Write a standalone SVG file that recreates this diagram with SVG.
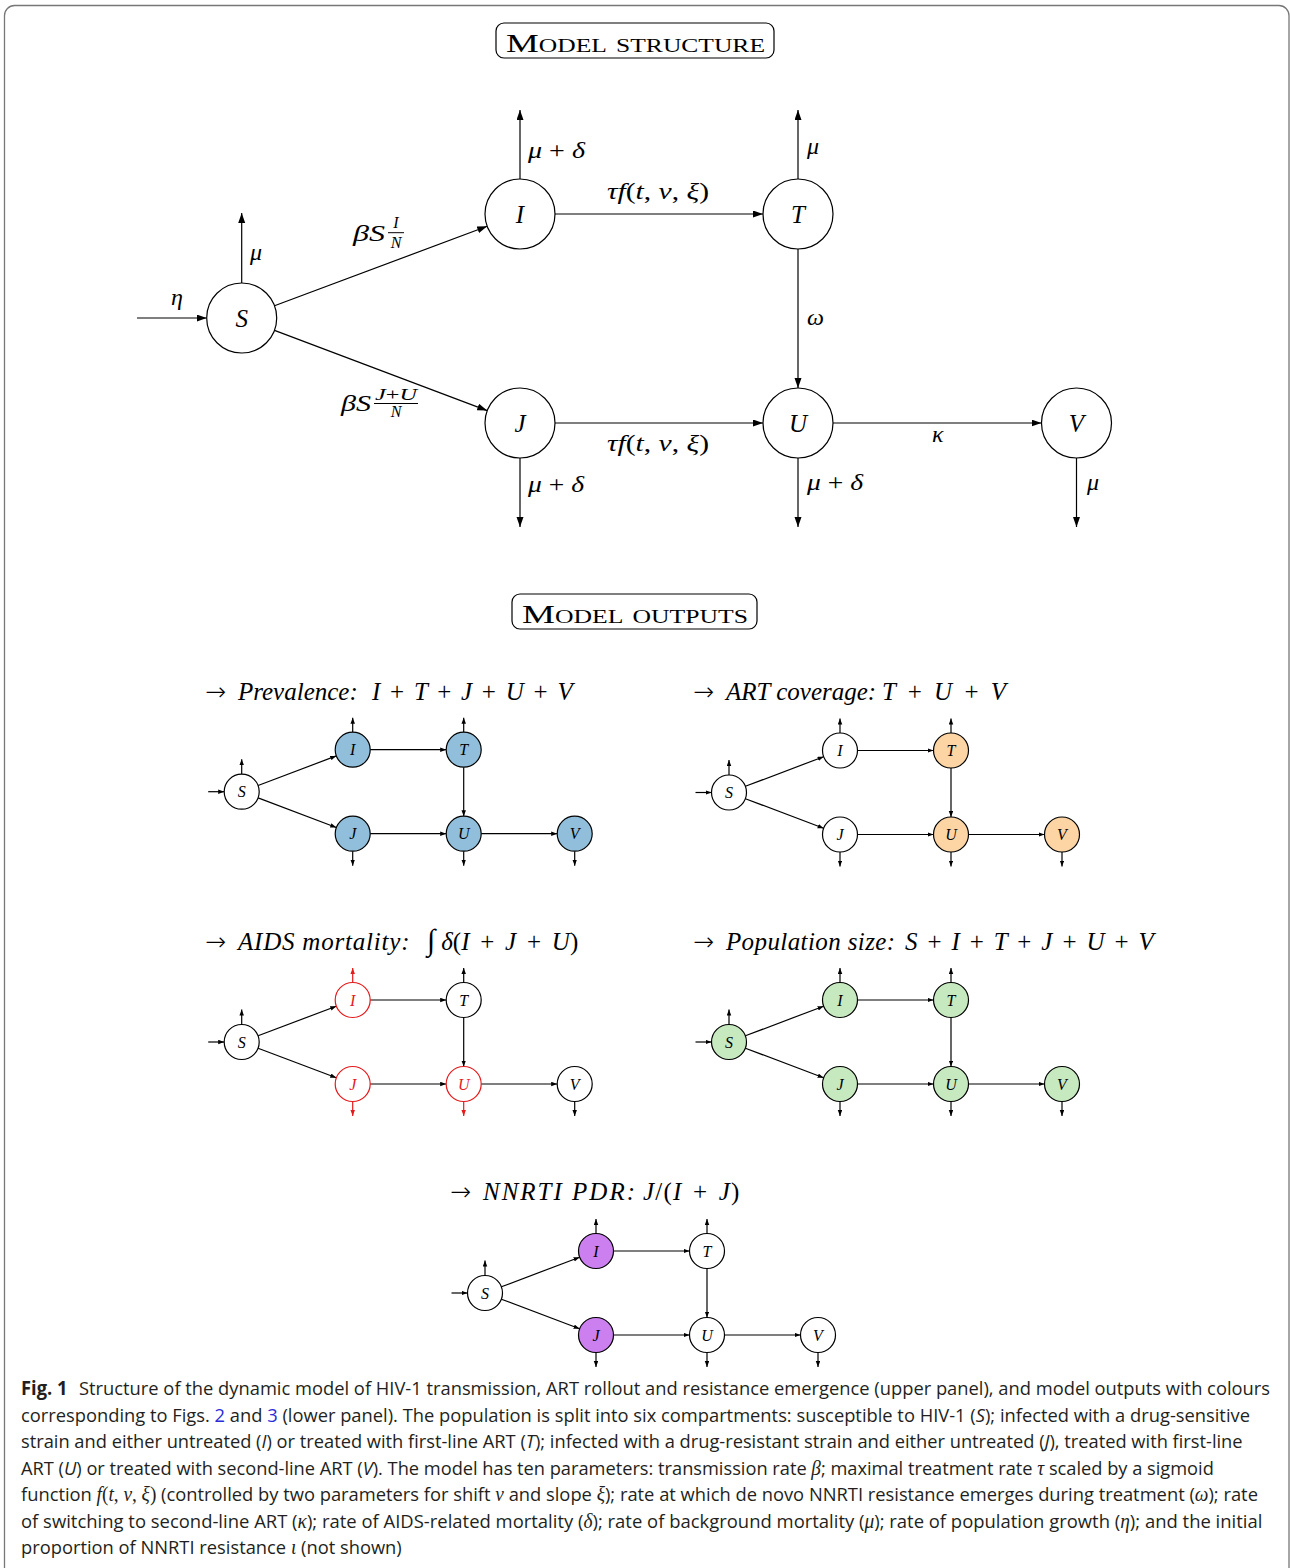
<svg xmlns="http://www.w3.org/2000/svg" width="1290" height="1568" viewBox="0 0 1290 1568">
  <defs>
    <marker id="arr" markerUnits="userSpaceOnUse" markerWidth="11" markerHeight="8" refX="10" refY="3.5" orient="auto">
      <path d="M0,0 L10,3.5 L0,7 z" fill="#000"/>
    </marker>
    <marker id="arrs" markerUnits="userSpaceOnUse" markerWidth="7" markerHeight="5" refX="6" refY="2.25" orient="auto">
      <path d="M0,0 L6,2.25 L0,4.5 z" fill="#000"/>
    </marker>
    <marker id="arrs-red" markerUnits="userSpaceOnUse" markerWidth="7" markerHeight="5" refX="6" refY="2.25" orient="auto">
      <path d="M0,0 L6,2.25 L0,4.5 z" fill="#e41a1c"/>
    </marker>
  </defs>
  <style>
    .frame { fill: #fff; stroke: #777; stroke-width: 1.3; }
    .tbox { fill: none; stroke: #000; stroke-width: 1.2; }
    .ttl { font-family: "Liberation Serif", "DejaVu Serif", serif; font-size: 26px; font-variant: small-caps; fill: #000; }
    .node { fill: #fff; stroke: #000; stroke-width: 1.2; }
    .lbl { font-family: "Liberation Serif", "DejaVu Serif", serif; font-style: italic; font-size: 25px; fill: #000; text-anchor: middle; }
    .m { font-family: "Liberation Serif", "DejaVu Serif", serif; font-style: italic; font-size: 24px; fill: #000; }
    .mf { font-family: "Liberation Serif", "DejaVu Serif", serif; font-style: italic; font-size: 16px; fill: #000; text-anchor: middle; }
    .up { font-style: normal; }
    .edge { fill: none; stroke: #000; stroke-width: 1.2; marker-end: url(#arr); }
    .sedge { fill: none; stroke: #000; stroke-width: 1.2; marker-end: url(#arrs); }
    .sedge-red { fill: none; stroke: #e41a1c; stroke-width: 1.2; marker-end: url(#arrs-red); }
    .snode { stroke: #000; stroke-width: 1.2; fill: #fff; }
    .slbl { font-family: "Liberation Serif", "DejaVu Serif", serif; font-style: italic; font-size: 16px; fill: #000; text-anchor: middle; }
    .blue { fill: #91bfdb; }
    .orange { fill: #fdd5a5; }
    .green { fill: #c7e9c0; }
    .purple { fill: #cc80f0; }
    .red { stroke: #e41a1c; }
    .redtxt { fill: #e41a1c; }
    .otl { font-family: "Liberation Serif", "DejaVu Serif", serif; font-style: italic; font-size: 25px; fill: #000; }
    .arrow { font-family: "DejaVu Sans", sans-serif; font-style: normal; font-weight: 200; }
    .int { font-style: normal; font-size: 30px; }
    .cap { font-family: "Open Sans", "Noto Sans", sans-serif; font-size: 19px; fill: #231f20; }
    .cb { font-weight: bold; }
    .ci { font-style: italic; }
    .cm { font-family: "Liberation Serif", "DejaVu Serif", serif; font-style: italic; font-size: 20px; }
    .cu { font-family: "Liberation Serif", "DejaVu Serif", serif; font-size: 20px; }
    .link { fill: #2b2bd9; }
  </style>

  <!-- outer frame -->
  <rect class="frame" x="4.5" y="5.5" width="1284.5" height="1572" rx="10"/>

  <!-- ===== upper panel ===== -->
  <g id="title-structure">
    <rect class="tbox" x="496" y="23" width="278" height="35" rx="8"/>
    <text class="ttl" x="506" y="52" textLength="259" lengthAdjust="spacingAndGlyphs">Model structure</text>
  </g>

  <g id="connectors">
    <line class="edge" x1="137" y1="318" x2="206.7" y2="318"/>
    <line class="edge" x1="241.7" y1="283" x2="241.7" y2="213"/>
    <line class="edge" x1="274.5" y1="305.7" x2="487.2" y2="226.3"/>
    <line class="edge" x1="274.5" y1="330.4" x2="487.2" y2="410.6"/>
    <line class="edge" x1="520" y1="179" x2="520" y2="110"/>
    <line class="edge" x1="798" y1="179" x2="798" y2="110"/>
    <line class="edge" x1="555" y1="214" x2="763" y2="214"/>
    <line class="edge" x1="798" y1="249" x2="798" y2="388"/>
    <line class="edge" x1="555" y1="423" x2="763" y2="423"/>
    <line class="edge" x1="833" y1="423" x2="1041.5" y2="423"/>
    <line class="edge" x1="520" y1="458" x2="520" y2="527"/>
    <line class="edge" x1="798" y1="458" x2="798" y2="527"/>
    <line class="edge" x1="1076.5" y1="458" x2="1076.5" y2="527"/>
  </g>

  <g id="edge-labels">
    <text class="m" x="171" y="305">η</text>
    <text class="m" x="250" y="260">μ</text>
    <text class="m" x="353" y="241" textLength="32" lengthAdjust="spacingAndGlyphs">βS</text>
    <text class="mf" x="396" y="228">I</text>
    <line x1="388" y1="232.7" x2="404" y2="232.7" stroke="#000" stroke-width="1"/>
    <text class="mf" x="396" y="248">N</text>
    <text class="m" x="341" y="411" textLength="30" lengthAdjust="spacingAndGlyphs">βS</text>
    <text class="mf" x="396" y="400" textLength="42" lengthAdjust="spacingAndGlyphs">J<tspan class="up">+</tspan>U</text>
    <line x1="374" y1="403.5" x2="418" y2="403.5" stroke="#000" stroke-width="1"/>
    <text class="mf" x="396" y="417">N</text>
    <text class="m" x="528" y="158" textLength="57" lengthAdjust="spacingAndGlyphs">μ <tspan class="up">+</tspan> δ</text>
    <text class="m" x="607" y="199" textLength="102" lengthAdjust="spacingAndGlyphs">τf<tspan class="up">(</tspan>t<tspan class="up">, </tspan>ν<tspan class="up">, </tspan>ξ<tspan class="up">)</tspan></text>
    <text class="m" x="807" y="154">μ</text>
    <text class="m" x="807" y="325">ω</text>
    <text class="m" x="607" y="451" textLength="102" lengthAdjust="spacingAndGlyphs">τf<tspan class="up">(</tspan>t<tspan class="up">, </tspan>ν<tspan class="up">, </tspan>ξ<tspan class="up">)</tspan></text>
    <text class="m" x="528" y="492" textLength="56" lengthAdjust="spacingAndGlyphs">μ <tspan class="up">+</tspan> δ</text>
    <text class="m" x="807" y="490" textLength="56" lengthAdjust="spacingAndGlyphs">μ <tspan class="up">+</tspan> δ</text>
    <text class="m" x="932" y="442">κ</text>
    <text class="m" x="1087" y="490">μ</text>
  </g>

  <g id="node-S"><circle class="node" cx="241.7" cy="318" r="35"/><text class="lbl" x="241.7" y="327">S</text></g>
  <g id="node-I"><circle class="node" cx="520" cy="214" r="35"/><text class="lbl" x="520" y="223">I</text></g>
  <g id="node-T"><circle class="node" cx="798" cy="214" r="35"/><text class="lbl" x="798" y="223">T</text></g>
  <g id="node-J"><circle class="node" cx="520" cy="423" r="35"/><text class="lbl" x="520" y="432">J</text></g>
  <g id="node-U"><circle class="node" cx="798" cy="423" r="35"/><text class="lbl" x="798" y="432">U</text></g>
  <g id="node-V"><circle class="node" cx="1076.5" cy="423" r="35"/><text class="lbl" x="1076.5" y="432">V</text></g>

  <!-- ===== lower panel ===== -->
  <g id="title-outputs">
    <rect class="tbox" x="512" y="594" width="245" height="35" rx="8"/>
    <text class="ttl" x="522" y="623" textLength="226" lengthAdjust="spacingAndGlyphs">Model outputs</text>
  </g>

  <!-- output: prevalence -->
  <g id="out-prevalence">
    <text class="otl" x="205" y="700"><tspan class="arrow">→</tspan><tspan dx="12">Prevalence:</tspan><tspan x="372" word-spacing="3.5">I <tspan class="up">+</tspan> T <tspan class="up">+</tspan> J <tspan class="up">+</tspan> U <tspan class="up">+</tspan> V</tspan></text>
    <g transform="translate(241.7,791.7)">
      <g class="connectors">
        <line class="sedge" x1="-33.5" y1="0" x2="-17.5" y2="0"/>
        <line class="sedge" x1="0" y1="-17.5" x2="0" y2="-32.5"/>
        <line class="sedge" x1="16.4" y1="-6.2" x2="94.6" y2="-35.8"/>
        <line class="sedge" x1="16.4" y1="6.2" x2="94.6" y2="35.8"/>
        <line class="sedge" x1="128.5" y1="-42" x2="204.5" y2="-42"/>
        <line class="sedge" x1="222" y1="-24.5" x2="222" y2="24.5"/>
        <line class="sedge" x1="128.5" y1="42" x2="204.5" y2="42"/>
        <line class="sedge" x1="239.5" y1="42" x2="315.5" y2="42"/>
        <line class="sedge" x1="111" y1="-59.5" x2="111" y2="-74"/>
        <line class="sedge" x1="222" y1="-59.5" x2="222" y2="-74"/>
        <line class="sedge" x1="111" y1="59.5" x2="111" y2="74"/>
        <line class="sedge" x1="222" y1="59.5" x2="222" y2="74"/>
        <line class="sedge" x1="333" y1="59.5" x2="333" y2="74"/>
      </g>
      <g id="p-S"><circle class="snode" cx="0" cy="0" r="17.5"/><text class="slbl" x="0" y="5.5">S</text></g>
      <g id="p-I"><circle class="snode blue" cx="111" cy="-42" r="17.5"/><text class="slbl" x="111" y="-36.5">I</text></g>
      <g id="p-T"><circle class="snode blue" cx="222" cy="-42" r="17.5"/><text class="slbl" x="222" y="-36.5">T</text></g>
      <g id="p-J"><circle class="snode blue" cx="111" cy="42" r="17.5"/><text class="slbl" x="111" y="47.5">J</text></g>
      <g id="p-U"><circle class="snode blue" cx="222" cy="42" r="17.5"/><text class="slbl" x="222" y="47.5">U</text></g>
      <g id="p-V"><circle class="snode blue" cx="333" cy="42" r="17.5"/><text class="slbl" x="333" y="47.5">V</text></g>
    </g>
  </g>

  <!-- output: ART coverage -->
  <g id="out-art">
    <text class="otl" x="693" y="700"><tspan class="arrow">→</tspan><tspan dx="12">ART coverage:</tspan><tspan x="882" word-spacing="6">T <tspan class="up">+</tspan> U <tspan class="up">+</tspan> V</tspan></text>
    <g transform="translate(729,792.5)">
      <g class="connectors">
        <line class="sedge" x1="-33.5" y1="0" x2="-17.5" y2="0"/>
        <line class="sedge" x1="0" y1="-17.5" x2="0" y2="-32.5"/>
        <line class="sedge" x1="16.4" y1="-6.2" x2="94.6" y2="-35.8"/>
        <line class="sedge" x1="16.4" y1="6.2" x2="94.6" y2="35.8"/>
        <line class="sedge" x1="128.5" y1="-42" x2="204.5" y2="-42"/>
        <line class="sedge" x1="222" y1="-24.5" x2="222" y2="24.5"/>
        <line class="sedge" x1="128.5" y1="42" x2="204.5" y2="42"/>
        <line class="sedge" x1="239.5" y1="42" x2="315.5" y2="42"/>
        <line class="sedge" x1="111" y1="-59.5" x2="111" y2="-74"/>
        <line class="sedge" x1="222" y1="-59.5" x2="222" y2="-74"/>
        <line class="sedge" x1="111" y1="59.5" x2="111" y2="74"/>
        <line class="sedge" x1="222" y1="59.5" x2="222" y2="74"/>
        <line class="sedge" x1="333" y1="59.5" x2="333" y2="74"/>
      </g>
      <g id="a-S"><circle class="snode" cx="0" cy="0" r="17.5"/><text class="slbl" x="0" y="5.5">S</text></g>
      <g id="a-I"><circle class="snode" cx="111" cy="-42" r="17.5"/><text class="slbl" x="111" y="-36.5">I</text></g>
      <g id="a-T"><circle class="snode orange" cx="222" cy="-42" r="17.5"/><text class="slbl" x="222" y="-36.5">T</text></g>
      <g id="a-J"><circle class="snode" cx="111" cy="42" r="17.5"/><text class="slbl" x="111" y="47.5">J</text></g>
      <g id="a-U"><circle class="snode orange" cx="222" cy="42" r="17.5"/><text class="slbl" x="222" y="47.5">U</text></g>
      <g id="a-V"><circle class="snode orange" cx="333" cy="42" r="17.5"/><text class="slbl" x="333" y="47.5">V</text></g>
    </g>
  </g>

  <!-- output: AIDS mortality -->
  <g id="out-aids">
    <text class="otl" x="205" y="950"><tspan class="arrow">→</tspan><tspan dx="12" letter-spacing="0.8">AIDS mortality:</tspan><tspan x="427" class="int">∫</tspan><tspan dx="6" word-spacing="4.5">δ<tspan class="up">(</tspan>I <tspan class="up">+</tspan> J <tspan class="up">+</tspan> U<tspan class="up">)</tspan></tspan></text>
    <g transform="translate(241.7,1042)">
      <g class="connectors">
        <line class="sedge" x1="-33.5" y1="0" x2="-17.5" y2="0"/>
        <line class="sedge" x1="0" y1="-17.5" x2="0" y2="-32.5"/>
        <line class="sedge" x1="16.4" y1="-6.2" x2="94.6" y2="-35.8"/>
        <line class="sedge" x1="16.4" y1="6.2" x2="94.6" y2="35.8"/>
        <line class="sedge" x1="128.5" y1="-42" x2="204.5" y2="-42"/>
        <line class="sedge" x1="222" y1="-24.5" x2="222" y2="24.5"/>
        <line class="sedge" x1="128.5" y1="42" x2="204.5" y2="42"/>
        <line class="sedge" x1="239.5" y1="42" x2="315.5" y2="42"/>
        <line class="sedge-red" x1="111" y1="-59.5" x2="111" y2="-74"/>
        <line class="sedge" x1="222" y1="-59.5" x2="222" y2="-74"/>
        <line class="sedge-red" x1="111" y1="59.5" x2="111" y2="74"/>
        <line class="sedge-red" x1="222" y1="59.5" x2="222" y2="74"/>
        <line class="sedge" x1="333" y1="59.5" x2="333" y2="74"/>
      </g>
      <g id="m-S"><circle class="snode" cx="0" cy="0" r="17.5"/><text class="slbl" x="0" y="5.5">S</text></g>
      <g id="m-I"><circle class="snode red" cx="111" cy="-42" r="17.5"/><text class="slbl redtxt" x="111" y="-36.5">I</text></g>
      <g id="m-T"><circle class="snode" cx="222" cy="-42" r="17.5"/><text class="slbl" x="222" y="-36.5">T</text></g>
      <g id="m-J"><circle class="snode red" cx="111" cy="42" r="17.5"/><text class="slbl redtxt" x="111" y="47.5">J</text></g>
      <g id="m-U"><circle class="snode red" cx="222" cy="42" r="17.5"/><text class="slbl redtxt" x="222" y="47.5">U</text></g>
      <g id="m-V"><circle class="snode" cx="333" cy="42" r="17.5"/><text class="slbl" x="333" y="47.5">V</text></g>
    </g>
  </g>

  <!-- output: population size -->
  <g id="out-population">
    <text class="otl" x="693" y="950"><tspan class="arrow">→</tspan><tspan dx="12" letter-spacing="0.4">Population size:</tspan><tspan x="905" word-spacing="3.7">S <tspan class="up">+</tspan> I <tspan class="up">+</tspan> T <tspan class="up">+</tspan> J <tspan class="up">+</tspan> U <tspan class="up">+</tspan> V</tspan></text>
    <g transform="translate(729,1042)">
      <g class="connectors">
        <line class="sedge" x1="-33.5" y1="0" x2="-17.5" y2="0"/>
        <line class="sedge" x1="0" y1="-17.5" x2="0" y2="-32.5"/>
        <line class="sedge" x1="16.4" y1="-6.2" x2="94.6" y2="-35.8"/>
        <line class="sedge" x1="16.4" y1="6.2" x2="94.6" y2="35.8"/>
        <line class="sedge" x1="128.5" y1="-42" x2="204.5" y2="-42"/>
        <line class="sedge" x1="222" y1="-24.5" x2="222" y2="24.5"/>
        <line class="sedge" x1="128.5" y1="42" x2="204.5" y2="42"/>
        <line class="sedge" x1="239.5" y1="42" x2="315.5" y2="42"/>
        <line class="sedge" x1="111" y1="-59.5" x2="111" y2="-74"/>
        <line class="sedge" x1="222" y1="-59.5" x2="222" y2="-74"/>
        <line class="sedge" x1="111" y1="59.5" x2="111" y2="74"/>
        <line class="sedge" x1="222" y1="59.5" x2="222" y2="74"/>
        <line class="sedge" x1="333" y1="59.5" x2="333" y2="74"/>
      </g>
      <g id="n-S"><circle class="snode green" cx="0" cy="0" r="17.5"/><text class="slbl" x="0" y="5.5">S</text></g>
      <g id="n-I"><circle class="snode green" cx="111" cy="-42" r="17.5"/><text class="slbl" x="111" y="-36.5">I</text></g>
      <g id="n-T"><circle class="snode green" cx="222" cy="-42" r="17.5"/><text class="slbl" x="222" y="-36.5">T</text></g>
      <g id="n-J"><circle class="snode green" cx="111" cy="42" r="17.5"/><text class="slbl" x="111" y="47.5">J</text></g>
      <g id="n-U"><circle class="snode green" cx="222" cy="42" r="17.5"/><text class="slbl" x="222" y="47.5">U</text></g>
      <g id="n-V"><circle class="snode green" cx="333" cy="42" r="17.5"/><text class="slbl" x="333" y="47.5">V</text></g>
    </g>
  </g>

  <!-- output: NNRTI PDR -->
  <g id="out-pdr">
    <text class="otl" x="450" y="1200"><tspan class="arrow">→</tspan><tspan dx="12" letter-spacing="2">NNRTI PDR:</tspan><tspan x="643" letter-spacing="1.2" word-spacing="3">J<tspan class="up">/(</tspan>I <tspan class="up">+</tspan> J<tspan class="up">)</tspan></tspan></text>
    <g transform="translate(485,1293)">
      <g class="connectors">
        <line class="sedge" x1="-33.5" y1="0" x2="-17.5" y2="0"/>
        <line class="sedge" x1="0" y1="-17.5" x2="0" y2="-32.5"/>
        <line class="sedge" x1="16.4" y1="-6.2" x2="94.6" y2="-35.8"/>
        <line class="sedge" x1="16.4" y1="6.2" x2="94.6" y2="35.8"/>
        <line class="sedge" x1="128.5" y1="-42" x2="204.5" y2="-42"/>
        <line class="sedge" x1="222" y1="-24.5" x2="222" y2="24.5"/>
        <line class="sedge" x1="128.5" y1="42" x2="204.5" y2="42"/>
        <line class="sedge" x1="239.5" y1="42" x2="315.5" y2="42"/>
        <line class="sedge" x1="111" y1="-59.5" x2="111" y2="-74"/>
        <line class="sedge" x1="222" y1="-59.5" x2="222" y2="-74"/>
        <line class="sedge" x1="111" y1="59.5" x2="111" y2="74"/>
        <line class="sedge" x1="222" y1="59.5" x2="222" y2="74"/>
        <line class="sedge" x1="333" y1="59.5" x2="333" y2="74"/>
      </g>
      <g id="d-S"><circle class="snode" cx="0" cy="0" r="17.5"/><text class="slbl" x="0" y="5.5">S</text></g>
      <g id="d-I"><circle class="snode purple" cx="111" cy="-42" r="17.5"/><text class="slbl" x="111" y="-36.5">I</text></g>
      <g id="d-T"><circle class="snode" cx="222" cy="-42" r="17.5"/><text class="slbl" x="222" y="-36.5">T</text></g>
      <g id="d-J"><circle class="snode purple" cx="111" cy="42" r="17.5"/><text class="slbl" x="111" y="47.5">J</text></g>
      <g id="d-U"><circle class="snode" cx="222" cy="42" r="17.5"/><text class="slbl" x="222" y="47.5">U</text></g>
      <g id="d-V"><circle class="snode" cx="333" cy="42" r="17.5"/><text class="slbl" x="333" y="47.5">V</text></g>
    </g>
  </g>

  <!-- ===== caption: each line condensed horizontally ===== -->
  <g id="caption">
    <text class="cap" transform="translate(21,1395) scale(0.9645,1)"><tspan class="cb">Fig. 1</tspan><tspan dx="12">Structure of the dynamic model of HIV-1 transmission, ART rollout and resistance emergence (upper panel), and model outputs with colours</tspan></text>
    <text class="cap" transform="translate(21,1421.5) scale(0.964,1)">corresponding to Figs. <tspan class="link">2</tspan> and <tspan class="link">3</tspan> (lower panel). The population is split into six compartments: susceptible to HIV-1 (<tspan class="ci">S</tspan>); infected with a drug-sensitive</text>
    <text class="cap" transform="translate(21,1448) scale(0.962,1)">strain and either untreated (<tspan class="ci">I</tspan>) or treated with first-line ART (<tspan class="ci">T</tspan>); infected with a drug-resistant strain and either untreated (<tspan class="ci">J</tspan>), treated with first-line</text>
    <text class="cap" transform="translate(21,1474.5) scale(0.96,1)">ART (<tspan class="ci">U</tspan>) or treated with second-line ART (<tspan class="ci">V</tspan>). The model has ten parameters: transmission rate <tspan class="cm">β</tspan>; maximal treatment rate <tspan class="cm">τ</tspan> scaled by a sigmoid</text>
    <text class="cap" transform="translate(21,1501) scale(0.965,1)">function <tspan class="cm">f</tspan><tspan class="cu">(</tspan><tspan class="cm">t</tspan><tspan class="cu">, </tspan><tspan class="cm">ν</tspan><tspan class="cu">, </tspan><tspan class="cm">ξ</tspan><tspan class="cu">)</tspan> (controlled by two parameters for shift <tspan class="cm">ν</tspan> and slope <tspan class="cm">ξ</tspan>); rate at which de novo NNRTI resistance emerges during treatment (<tspan class="cm">ω</tspan>); rate</text>
    <text class="cap" transform="translate(21,1527.5) scale(0.971,1)">of switching to second-line ART (<tspan class="cm">κ</tspan>); rate of AIDS-related mortality (<tspan class="cm">δ</tspan>); rate of background mortality (<tspan class="cm">μ</tspan>); rate of population growth (<tspan class="cm">η</tspan>); and the initial</text>
    <text class="cap" transform="translate(21,1554) scale(0.964,1)">proportion of NNRTI resistance <tspan class="cm">ι</tspan> (not shown)</text>
  </g>
</svg>
